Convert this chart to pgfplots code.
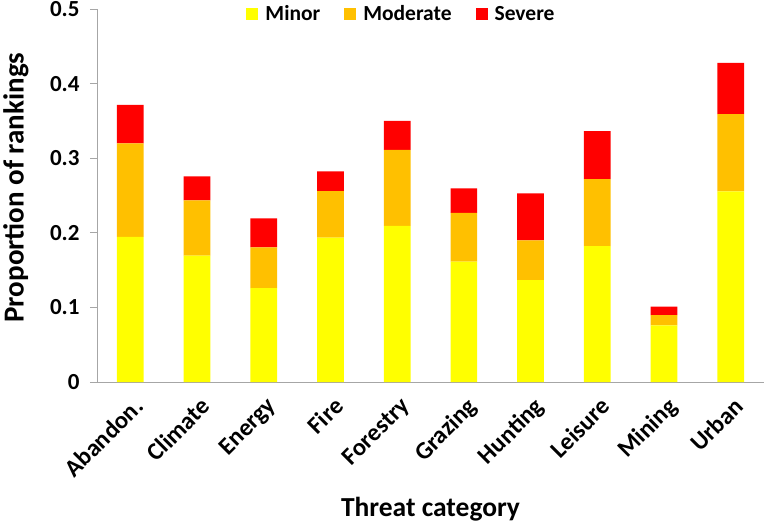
\documentclass[border=0pt]{standalone}
\usepackage{fontspec}
\setmainfont{Carlito}
\usepackage{pgfplots}
\pgfplotsset{compat=1.18}
\usepackage{pgfplotstable}
\definecolor{cminor}{HTML}{FFFF00}
\definecolor{cmod}{HTML}{FFC000}
\definecolor{csev}{HTML}{FF0000}
\definecolor{axgray}{HTML}{A6A6A6}
\pgfplotstableread{
x Minor Moderate Severe
0 0.1945 0.1255 0.0515
1 0.1695 0.0740 0.0320
2 0.1260 0.0546 0.0388
3 0.1936 0.0624 0.0263
4 0.2092 0.1018 0.0390
5 0.1615 0.0651 0.0330
6 0.1365 0.0535 0.0629
7 0.1820 0.0900 0.0643
8 0.0758 0.0139 0.0115
9 0.2556 0.1034 0.0687
}\data
\begin{document}
\begin{tikzpicture}
\begin{axis}[
  scale only axis,
  width=667pt, height=373pt,
  ybar stacked,
  bar width=26.7pt,
  xmin=-0.5, xmax=9.5,
  ymin=0, ymax=0.5,
  axis x line*=bottom,
  axis y line*=left,
  axis line style={axgray, line width=0.9pt},
  tick align=outside,
  major tick length=7pt,
  minor tick length=7pt,
  xtick={0,...,9},
  xticklabels={Abandon.,Climate,Energy,Fire,Forestry,Grazing,Hunting,Leisure,Mining,Urban},
  xtick style={draw=none},
  minor xtick={-0.5,0.5,...,9.5},
  minor x tick style={axgray, line width=0.9pt},
  ytick={0,0.1,0.2,0.3,0.4,0.5},
  ytick style={axgray, line width=0.9pt},
  /pgf/number format/assume math mode=true,
  yticklabel shift=7pt,
  yticklabel style={/pgf/number format/fixed, /pgf/number format/precision=1, font=\bfseries\fontsize{23}{25}\selectfont},
  xticklabel style={rotate=45, anchor=north east, font=\bfseries\fontsize{24.5}{26}\selectfont, yshift=-3pt},
  xlabel={Threat category},
  ylabel={Proportion of rankings},
  xlabel style={font=\bfseries\fontsize{27.5}{30}\selectfont, at={(rel axis cs:0.5,0)}, anchor=base, yshift=-134.5pt},
  ylabel style={font=\bfseries\fontsize{29}{31}\selectfont, at={([xshift=-81pt,yshift=8pt]rel axis cs:0,0.5)}, anchor=center},
  legend style={draw=none, legend columns=-1, at={(0.4565,0.9866)}, anchor=center,
    font=\bfseries\fontsize{21.5}{23}\selectfont,
    /tikz/every odd column/.append style={column sep=5pt},
    /tikz/every even column/.append style={column sep=22pt}},
  legend image code/.code={\fill[#1] (0pt,-6pt) rectangle (12pt,6pt);},
  clip=false,
]
\addplot[fill=cminor, draw=none] table[x=x, y=Minor] {\data};
\addplot[fill=cmod, draw=none] table[x=x, y=Moderate] {\data};
\addplot[fill=csev, draw=none] table[x=x, y=Severe] {\data};
\legend{Minor,Moderate,Severe}
\end{axis}
\pgfresetboundingbox
\useasboundingbox (-97pt,-140pt) rectangle (668pt,382pt);
\end{tikzpicture}
\end{document}
